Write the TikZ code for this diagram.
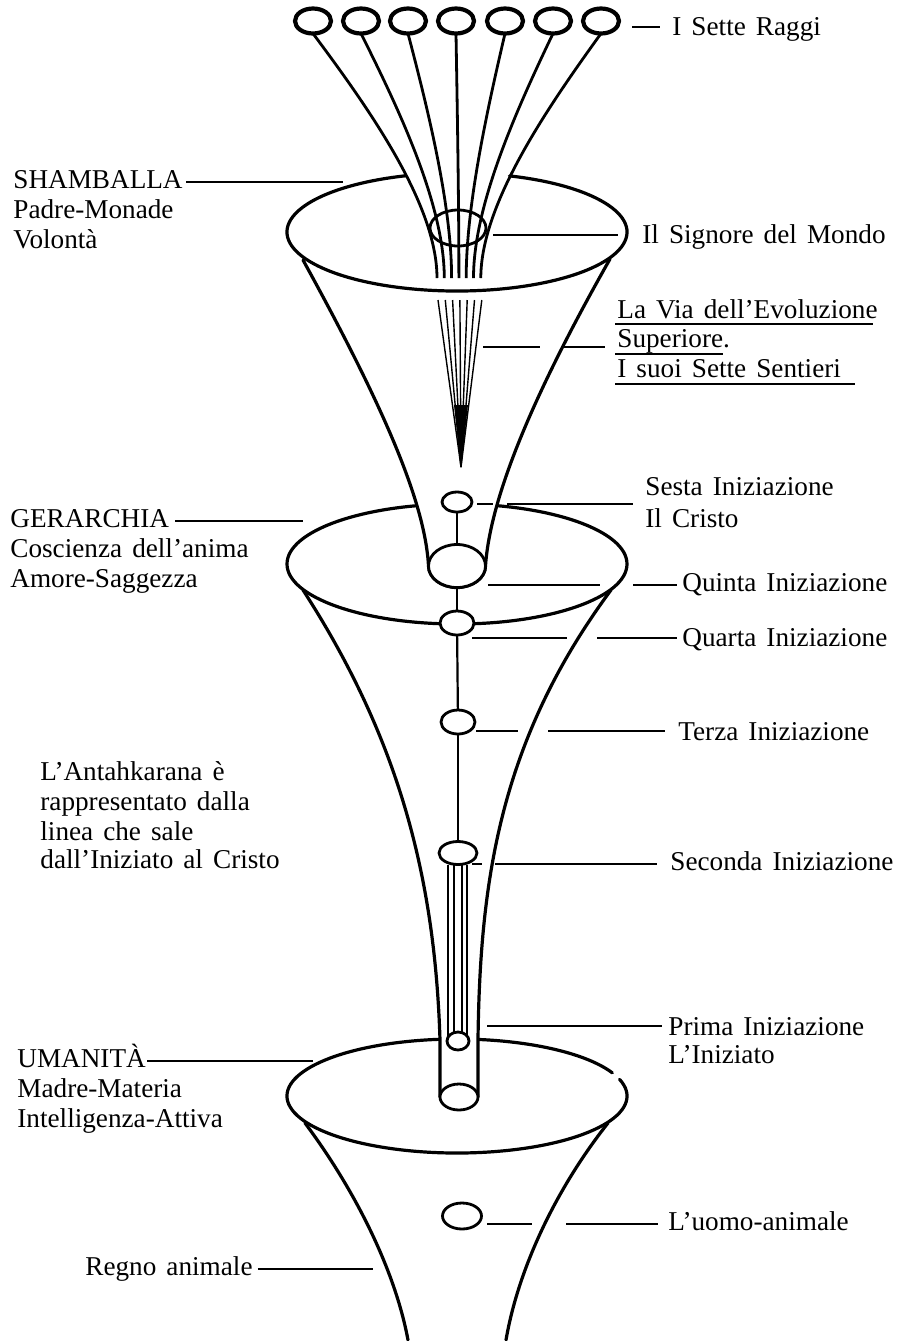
\documentclass[tikz,border=0pt]{standalone}
\usepackage{fontspec}
\setmainfont{Liberation Serif}
\usetikzlibrary{shapes.geometric,calc}
\newcommand\mylabfont{\fontsize{13.6}{15}\selectfont\spaceskip=0.37em plus 0.1em minus 0.05em\relax}
\begin{document}
\begin{tikzpicture}[x=0.5pt,y=-0.5pt,
  wall/.style={line width=1.6pt, line cap=round, line join=round},
  ray/.style={line width=1.4pt},
  leader/.style={line width=0.7pt},
  via/.style={line width=0.7pt},
  rod/.style={line width=1pt},
  rodin/.style={line width=0.55pt},
  stem/.style={line width=1.1pt},
  orb/.style={ellipse, draw, line width=1.4pt, inner sep=0pt, outer sep=0pt, fill=white},
  raggio/.style={ellipse, draw, line width=2.1pt, inner sep=0pt, outer sep=0pt, minimum width=18pt, minimum height=12.5pt},
  lbl/.style={anchor=base west, inner sep=0pt, font=\mylabfont},
]
\useasboundingbox (0,0) rectangle (900,1341);

% ---- Umanita ellipse (with small gap on the right)
\coordinate (uC) at (457,1096);
\draw[wall] (uC) ++(-17:170 and 57) arc[start angle=-17, end angle=336, x radius=170, y radius=57];

% ---- Funnel 2 and tube
\path[fill=white] (303,590) .. controls (400,740) and (435,880) .. (440,1040) -- (440,1097) -- (478,1097) -- (478,1040) .. controls (480,880) and (500,740) .. (611,590) -- cycle;
\draw[wall] (303,590) .. controls (400,740) and (435,880) .. (440,1040) -- (440,1097);
\draw[wall] (478,1097) -- (478,1040) .. controls (480,880) and (500,740) .. (611,590);
\node[orb, minimum width=19pt, minimum height=13pt] (cap) at (459,1097) {};

% ---- Funnel 3 (bottom)
\draw[wall] (305,1123) .. controls (355,1190) and (395,1270) .. (408,1340);
\draw[wall] (608,1123) .. controls (555,1190) and (518,1270) .. (506,1340);

% ---- Gerarchia ellipse
\draw[wall] (457,564) ellipse [x radius=170, y radius=60];

% ---- Funnel 1
\path[fill=white] (303,260) .. controls (380,400) and (425,500) .. (428.5,566) arc[start angle=180, end angle=0, x radius=28.5, y radius=21.5] .. controls (490,500) and (530,400) .. (610,259) -- cycle;
\draw[wall] (303,260) .. controls (380,400) and (425,500) .. (428.5,566) arc[start angle=180, end angle=0, x radius=28.5, y radius=21.5] .. controls (490,500) and (530,400) .. (610,259);

% ---- Shamballa ellipse (open between the rays)
\coordinate (sC) at (457,232);
\draw[wall] (sC) ++(-72:170 and 59) arc[start angle=-72, end angle=252.5, x radius=170, y radius=59];

% ---- Il Signore del Mondo
\node[ellipse, draw, line width=1.4pt, inner sep=0pt, minimum width=28pt, minimum height=18pt] (signore) at (458,228) {};

% ---- Seven rays
\foreach \i/\x/\e in {1/313/437, 2/361/444.3, 3/408/451.6, 4/456/458.9, 5/505/466.2, 6/553/473.5, 7/601/480.8}{
  \node[raggio] (r\i) at (\x,21) {};
  \coordinate (re\i) at (\e,278);
  \draw[ray] (r\i.south) .. controls ({\x+0.46*(\e-\x)},110) and (\e,205) .. (re\i);
}

% ---- La Via dell'Evoluzione Superiore
\coordinate (viatip) at (461,467);
\foreach \k in {0,...,6}{
  \coordinate (vs\k) at ({438+7.3*\k},300);
  \draw[via] (vs\k) -- (viatip);
}
\fill (454,405) -- (468,405) -- (viatip) -- cycle;

% ---- Initiations
\node[orb, minimum width=15pt, minimum height=10pt] (sesta) at (457,502) {};
\node[orb, minimum width=28.5pt, minimum height=21.5pt] (quinta) at (457,566) {};
\node[orb, minimum width=17pt, minimum height=12pt] (quarta) at (457,623) {};
\node[orb, minimum width=17pt, minimum height=12pt] (terza) at (458,722) {};
\node[orb, minimum width=19pt, minimum height=11.5pt] (seconda) at (458,853) {};
\draw[stem] (sesta) -- (quinta);
\draw[stem] (quinta) -- (quarta);
\draw[stem] (quarta) -- (terza);
\draw[stem] (terza) -- (seconda);

\coordinate (primaC) at (458,1041);
\draw[rod] ($(seconda.south)+(-10,0)$) -- ($(primaC)+(-10,0)$);
\draw[rod] ($(seconda.south)+(9,0)$) -- ($(primaC)+(9,0)$);
\draw[rodin] ($(seconda.south)+(-4,0)$) -- ($(primaC)+(-4,0)$);
\draw[rodin] ($(seconda.south)+(4,0)$) -- ($(primaC)+(4,0)$);
\node[orb, minimum width=11pt, minimum height=9pt] (prima) at (primaC) {};

\node[orb, minimum width=19.5pt, minimum height=13pt] (uomo) at (462,1216) {};

% ---- Right labels
\node[lbl] (traggi) at (672,35) {I Sette Raggi};
\draw[leader, line width=1.1pt] (632,27) -- (660,27);

\node[lbl] (tsignore) at (642,243) {Il Signore del Mondo};
\draw[leader] (493,235) -- (618,235);

\node[lbl] (tvia1) at (617,318) {La Via dell'Evoluzione};
\node[lbl] (tvia2) at (617,347) {Superiore.};
\node[lbl] (tvia3) at (617,377) {I suoi Sette Sentieri};
\draw[leader] (615,324) -- (873,324);
\draw[leader] (615,354) -- (723,354);
\draw[leader] (615,384) -- (855,384);
\draw[leader] (483,347) -- (540,347);
\draw[leader] (563,347) -- (605,347);

\node[lbl] (tsesta1) at (645,495) {Sesta Iniziazione};
\node[lbl] (tsesta2) at (645,527) {Il Cristo};
\draw[leader] (477,504) -- (493,504);
\draw[leader] (507,504) -- (633,504);

\node[lbl] (tquinta) at (682,591) {Quinta Iniziazione};
\draw[leader] (488,585) -- (600,585);
\draw[leader] (633,585) -- (677,585);

\node[lbl] (tquarta) at (682,646) {Quarta Iniziazione};
\draw[leader] (472,638) -- (567,638);
\draw[leader] (597,638) -- (677,638);

\node[lbl] (tterza) at (678,740) {Terza Iniziazione};
\draw[leader] (476,731) -- (518,731);
\draw[leader] (548,731) -- (665,731);

\node[lbl] (tseconda) at (670,870) {Seconda Iniziazione};
\draw[leader] (472,864) -- (482,864);
\draw[leader] (495,864) -- (657,864);

\node[lbl] (tprima1) at (668,1035) {Prima Iniziazione};
\node[lbl] (tprima2) at (668,1063) {L'Iniziato};
\draw[leader] (487,1026) -- (662,1026);

\node[lbl] (tuomo) at (668,1230) {L'uomo-animale};
\draw[leader] (487,1224) -- (532,1224);
\draw[leader] (566,1224) -- (658,1224);

% ---- Left labels
\node[lbl] (tsham1) at (13,188) {SHAMBALLA};
\node[lbl] (tsham2) at (13,218) {Padre-Monade};
\node[lbl] (tsham3) at (13,248) {Volontà};
\draw[leader] ($(tsham1.base east)+(3,-6)$) -- (343,182);

\node[lbl] (tger1) at (10,527) {GERARCHIA};
\node[lbl] (tger2) at (10,557) {Coscienza dell'anima};
\node[lbl] (tger3) at (10,587) {Amore-Saggezza};
\draw[leader] ($(tger1.base east)+(6,-6)$) -- (303,521);

\node[lbl] (tant1) at (40,780) {L'Antahkarana è};
\node[lbl] (tant2) at (40,810) {rappresentato dalla};
\node[lbl] (tant3) at (40,840) {linea che sale};
\node[lbl] (tant4) at (40,868) {dall'Iniziato al Cristo};

\node[lbl] (tuma1) at (17,1067) {UMANITÀ};
\node[lbl] (tuma2) at (17,1097) {Madre-Materia};
\node[lbl] (tuma3) at (17,1127) {Intelligenza-Attiva};
\draw[leader] ($(tuma1.base east)+(1,-6)$) -- (313,1061);

\node[lbl] (tregno) at (85,1275) {Regno animale};
\draw[leader] ($(tregno.base east)+(5,-6)$) -- (373,1269);

\end{tikzpicture}
\end{document}
